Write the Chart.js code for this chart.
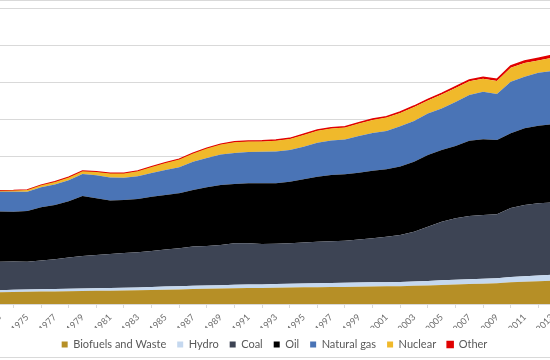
<!DOCTYPE html>
<html>
<head>
<meta charset="utf-8">
<script src="https://cdn.jsdelivr.net/npm/chart.js@4.4.1/dist/chart.umd.min.js"></script>
<style>
  html, body { margin: 0; padding: 0; background: #ffffff; }
  body { width: 550px; height: 360px; overflow: hidden; position: relative; }
  #frame { position: absolute; left: -2px; top: 0; width: 560px; height: 358px;
           border-top: 1px solid #d9d9d9; border-bottom: 1px solid #d9d9d9; box-sizing: border-box; }
  #c { position: absolute; left: -58px; top: 0; }
</style>
</head>
<body>
<div id="frame"></div>
<canvas id="c" width="645" height="360"></canvas>
<script>
const years = ["1971","1972","1973","1974","1975","1976","1977","1978","1979","1980",
  "1981","1982","1983","1984","1985","1986","1987","1988","1989","1990",
  "1991","1992","1993","1994","1995","1996","1997","1998","1999","2000",
  "2001","2002","2003","2004","2005","2006","2007","2008","2009","2010",
  "2011","2012","2013","2014"];

const biofuels = [610,625,640,650,660,670,680,690,700,710,
  720,730,740,760,775,790,805,820,835,850,
  860,870,880,890,900,910,920,925,935,945,
  955,965,985,1005,1030,1055,1075,1100,1120,1170,
  1200,1230,1260,1280];
const hydro = [100,105,110,115,120,125,128,135,140,145,
  148,152,156,162,168,172,175,178,180,184,
  188,190,200,205,213,216,220,222,224,225,
  222,230,232,245,252,258,265,270,275,296,
  305,315,326,335];
const coal = [1440,1460,1536,1530,1506,1560,1608,1688,1754,1793,
  1835,1875,1904,1943,1997,2048,2122,2137,2174,2247,
  2233,2183,2179,2186,2211,2241,2254,2274,2327,2381,
  2461,2534,2691,2928,3166,3319,3416,3440,3453,3723,
  3846,3898,3900,3930];
const oil = [2440,2610,2714,2690,2741,2880,2935,3040,3243,3065,
  2891,2864,2875,2935,2951,2973,3060,3173,3243,3205,
  3243,3281,3265,3329,3416,3514,3578,3589,3611,3654,
  3643,3703,3783,3875,3876,3908,4070,4092,4016,4037,
  4146,4194,4227,4260];
const naturalGas = [895,935,1070,1080,1040,1070,1110,1140,1190,1240,
  1250,1205,1227,1280,1352,1405,1529,1583,1655,1675,
  1689,1700,1720,1714,1762,1840,1860,1881,1990,2040,
  2070,2170,2200,2240,2250,2380,2470,2573,2490,2789,
  2788,2865,2881,2910];
const nuclear = [31,40,48,65,95,110,140,150,155,188,
  210,230,278,332,383,420,441,510,530,581,
  565,563,586,595,633,647,659,653,670,707,
  724,726,754,713,752,758,738,698,704,751,
  741,660,718,725];
const other = [4,5,6,6,6,7,7,7,8,9,
  9,9,10,10,11,13,15,18,22,27,
  32,33,34,35,37,38,40,41,43,48,
  50,52,55,58,62,67,73,80,87,98,
  108,118,128,138];

const yTicks = [0,2000,4000,6000,8000,10000,12000,14000,16000];

const seriesNames = ["Biofuels and Waste","Hydro","Coal","Oil","Natural gas","Nuclear","Other"];
const seriesData = [biofuels, hydro, coal, oil, naturalGas, nuclear, other];
const seriesColors = ["#B68F26","#C5D8EF","#3D4454","#000000","#4A74B6","#F0B92B","#E00000"];

const datasets = seriesNames.map((name, i) => ({
  label: name,
  data: seriesData[i],
  backgroundColor: seriesColors[i],
  borderColor: seriesColors[i],
  borderWidth: name === "Other" ? 1.5 : 0,
  pointRadius: 0,
  pointHoverRadius: 0,
  tension: 0,
  fill: i === 0 ? 'origin' : '-1'
}));

new Chart(document.getElementById('c'), {
  type: 'line',
  data: { labels: years, datasets: datasets },
  options: {
    responsive: false,
    animation: false,
    devicePixelRatio: 1,
    layout: { padding: { left: 30, right: 10, top: 8, bottom: 0 } },
    plugins: {
      tooltip: { enabled: false },
      legend: {
        position: 'bottom',
        labels: {
          boxWidth: 6, boxHeight: 6, padding: 11,
          color: '#595959',
          font: { family: 'Lato', size: 11 }
        }
      }
    },
    scales: {
      x: {
        grid: {
          display: true,
          drawOnChartArea: false,
          drawTicks: true,
          tickLength: 4,
          color: (ctx) => (ctx.index !== undefined && Number(years[ctx.index]) % 2 === 0) ? '#d9d9d9' : 'rgba(0,0,0,0)'
        },
        border: { display: true, color: '#d9d9d9' },
        ticks: {
          autoSkip: false,
          maxRotation: 45,
          minRotation: 45,
          padding: 4,
          color: '#6b6b6b',
          font: { family: 'Lato', size: 9 },
          callback: function(value, index) {
            const y = years[index];
            return Number(y) % 2 === 1 ? y : '';
          }
        },
        afterFit: (scale) => { scale.height = 24; }
      },
      y: {
        stacked: true,
        min: yTicks[0],
        max: yTicks[yTicks.length - 1],
        afterBuildTicks: (scale) => { scale.ticks = yTicks.map(v => ({ value: v })); },
        grid: { color: '#d9d9d9', lineWidth: 1, drawTicks: false },
        border: { display: false },
        ticks: { display: false },
        afterFit: (scale) => { scale.width = 0; }
      },
      yR: {
        type: 'linear',
        position: 'right',
        display: true,
        grid: { display: false, drawTicks: false },
        border: { display: false },
        ticks: { display: false },
        afterFit: (scale) => { scale.width = 11; }
      }
    }
  }
});
</script>
</body>
</html>
